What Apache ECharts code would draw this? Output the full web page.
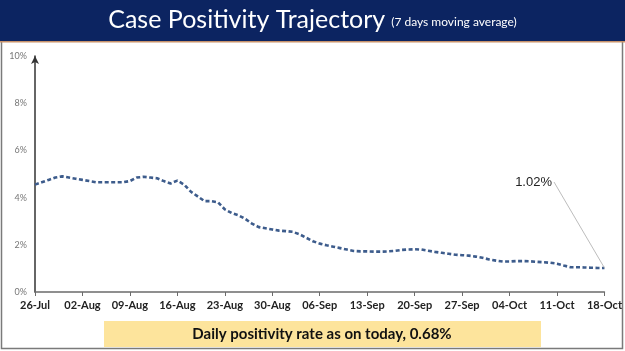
<!DOCTYPE html>
<html>
<head>
<meta charset="utf-8">
<script src="https://cdn.jsdelivr.net/npm/echarts@6/dist/echarts.min.js"></script>
<style>
    html, body { margin: 0; padding: 0; background: #fff; }
    #chart { width: 625px; height: 351px; }
</style>
</head>
<body>
<div id="chart"></div>
<script>
// Case positivity, 7 day moving average (%), 26-Jul to 18-Oct
const dates = [
    '26-Jul', '27-Jul', '28-Jul', '29-Jul', '30-Jul', '31-Jul',
    '01-Aug', '02-Aug', '03-Aug', '04-Aug', '05-Aug', '06-Aug', '07-Aug', '08-Aug', '09-Aug', '10-Aug',
    '11-Aug', '12-Aug', '13-Aug', '14-Aug', '15-Aug', '16-Aug', '17-Aug', '18-Aug', '19-Aug', '20-Aug',
    '21-Aug', '22-Aug', '23-Aug', '24-Aug', '25-Aug', '26-Aug', '27-Aug', '28-Aug', '29-Aug', '30-Aug', '31-Aug',
    '01-Sep', '02-Sep', '03-Sep', '04-Sep', '05-Sep', '06-Sep', '07-Sep', '08-Sep', '09-Sep', '10-Sep',
    '11-Sep', '12-Sep', '13-Sep', '14-Sep', '15-Sep', '16-Sep', '17-Sep', '18-Sep', '19-Sep', '20-Sep',
    '21-Sep', '22-Sep', '23-Sep', '24-Sep', '25-Sep', '26-Sep', '27-Sep', '28-Sep', '29-Sep', '30-Sep',
    '01-Oct', '02-Oct', '03-Oct', '04-Oct', '05-Oct', '06-Oct', '07-Oct', '08-Oct', '09-Oct', '10-Oct',
    '11-Oct', '12-Oct', '13-Oct', '14-Oct', '15-Oct', '16-Oct', '17-Oct', '18-Oct'
];

const positivity = [
    4.55, 4.65, 4.75, 4.85, 4.9, 4.85,
    4.8, 4.75, 4.7, 4.65, 4.65, 4.65, 4.65, 4.65, 4.7, 4.85,
    4.88, 4.85, 4.82, 4.7, 4.6, 4.72, 4.55, 4.25, 4.05, 3.85,
    3.85, 3.8, 3.5, 3.35, 3.25, 3.1, 2.9, 2.75, 2.7, 2.65, 2.6,
    2.58, 2.55, 2.45, 2.3, 2.15, 2.05, 1.98, 1.92, 1.86, 1.8,
    1.74, 1.72, 1.72, 1.71, 1.71, 1.72, 1.74, 1.78, 1.8, 1.81,
    1.8, 1.75, 1.7, 1.66, 1.62, 1.58, 1.56, 1.54, 1.5, 1.45,
    1.38, 1.33, 1.29, 1.29, 1.31, 1.31, 1.3, 1.28, 1.26, 1.24,
    1.2, 1.12, 1.05, 1.05, 1.04, 1.03, 1.02, 1.02
];

const yTicks = [0, 2, 4, 6, 8, 10];
const lastLabel = '1.02%';
const dailyNote = 'Daily positivity rate as on today, 0.68%';

const chart = echarts.init(document.getElementById('chart'));

const lastIndex = positivity.length - 1;

const option = {
    backgroundColor: '#ffffff',
    animation: false,
    textStyle: { fontFamily: 'Lato, sans-serif' },
    graphic: [
        // slide border
        { type: 'rect', shape: { x: 1.5, y: 0, width: 621, height: 348.5 }, style: { fill: 'none', stroke: '#7a7a7a', lineWidth: 1.5 }, z: 0 },
        // header band
        { type: 'rect', shape: { x: 0, y: 0, width: 625, height: 41 }, style: { fill: '#0c2461' }, z: 10 },
        { type: 'rect', shape: { x: 0, y: 41, width: 625, height: 1.5 }, style: { fill: '#c8926a' }, z: 10 },
        { type: 'text', left: 'center', top: 7,
          style: { rich: {
              t: { fontSize: 25, fill: '#ffffff', fontFamily: 'Lato, sans-serif' },
              s: { fontSize: 12, fill: '#ffffff', fontFamily: 'Lato, sans-serif', padding: [6, 0, 0, 6] }
          }, text: '{t|Case Positivity Trajectory}{s|(7 days moving average)}' }, z: 11 },
        // bottom note
        { type: 'rect', shape: { x: 104, y: 321, width: 437, height: 26 }, style: { fill: '#fde49c' }, z: 10 },
        { type: 'text', x: 322, y: 334,
          style: { text: dailyNote, fontSize: 15, fontWeight: 'bold', fill: '#111', align: 'center', verticalAlign: 'middle', fontFamily: 'Lato, sans-serif' }, z: 11 }
    ],
    grid: { left: 35, right: 17, top: 56, bottom: 59 },
    xAxis: {
        type: 'category',
        data: dates,
        boundaryGap: false,
        axisLine: { lineStyle: { color: '#6b6b6b', width: 1.5 } },
        axisTick: { interval: 6, length: 4, lineStyle: { color: '#6b6b6b' } },
        axisLabel: { interval: 6, color: '#222', fontSize: 11, fontWeight: 'bold', margin: 8 },
        splitLine: { show: false }
    },
    yAxis: {
        type: 'value',
        min: 0,
        max: 10,
        interval: 2,
        axisLine: { show: true, symbol: ['none', 'arrow'], symbolSize: [6, 8], lineStyle: { color: '#333', width: 1.5 } },
        axisTick: { show: false },
        axisLabel: {
            color: '#777', fontSize: 9, margin: 8,
            formatter: v => yTicks.includes(v) ? v + '%' : ''
        },
        splitLine: { show: false }
    },
    series: [{
        type: 'line',
        data: positivity,
        symbol: 'none',
        lineStyle: { color: '#3d5c8c', width: 2.6, type: [4, 2.5] }
    }]
};

chart.setOption(option);

// leader line from the last point up to its label
const end = chart.convertToPixel({ seriesIndex: 0 }, [lastIndex, positivity[lastIndex]]);
const labelPos = [554, 182];
chart.setOption({
    graphic: option.graphic.concat([
        { type: 'line', shape: { x1: labelPos[0], y1: labelPos[1], x2: end[0], y2: end[1] }, style: { stroke: '#bdbdbd', lineWidth: 1 }, z: 5 },
        { type: 'text', x: labelPos[0] - 2, y: labelPos[1],
          style: { text: lastLabel, fontSize: 13, fill: '#222', align: 'right', verticalAlign: 'middle' }, z: 6 }
    ])
});
</script>
</body>
</html>
